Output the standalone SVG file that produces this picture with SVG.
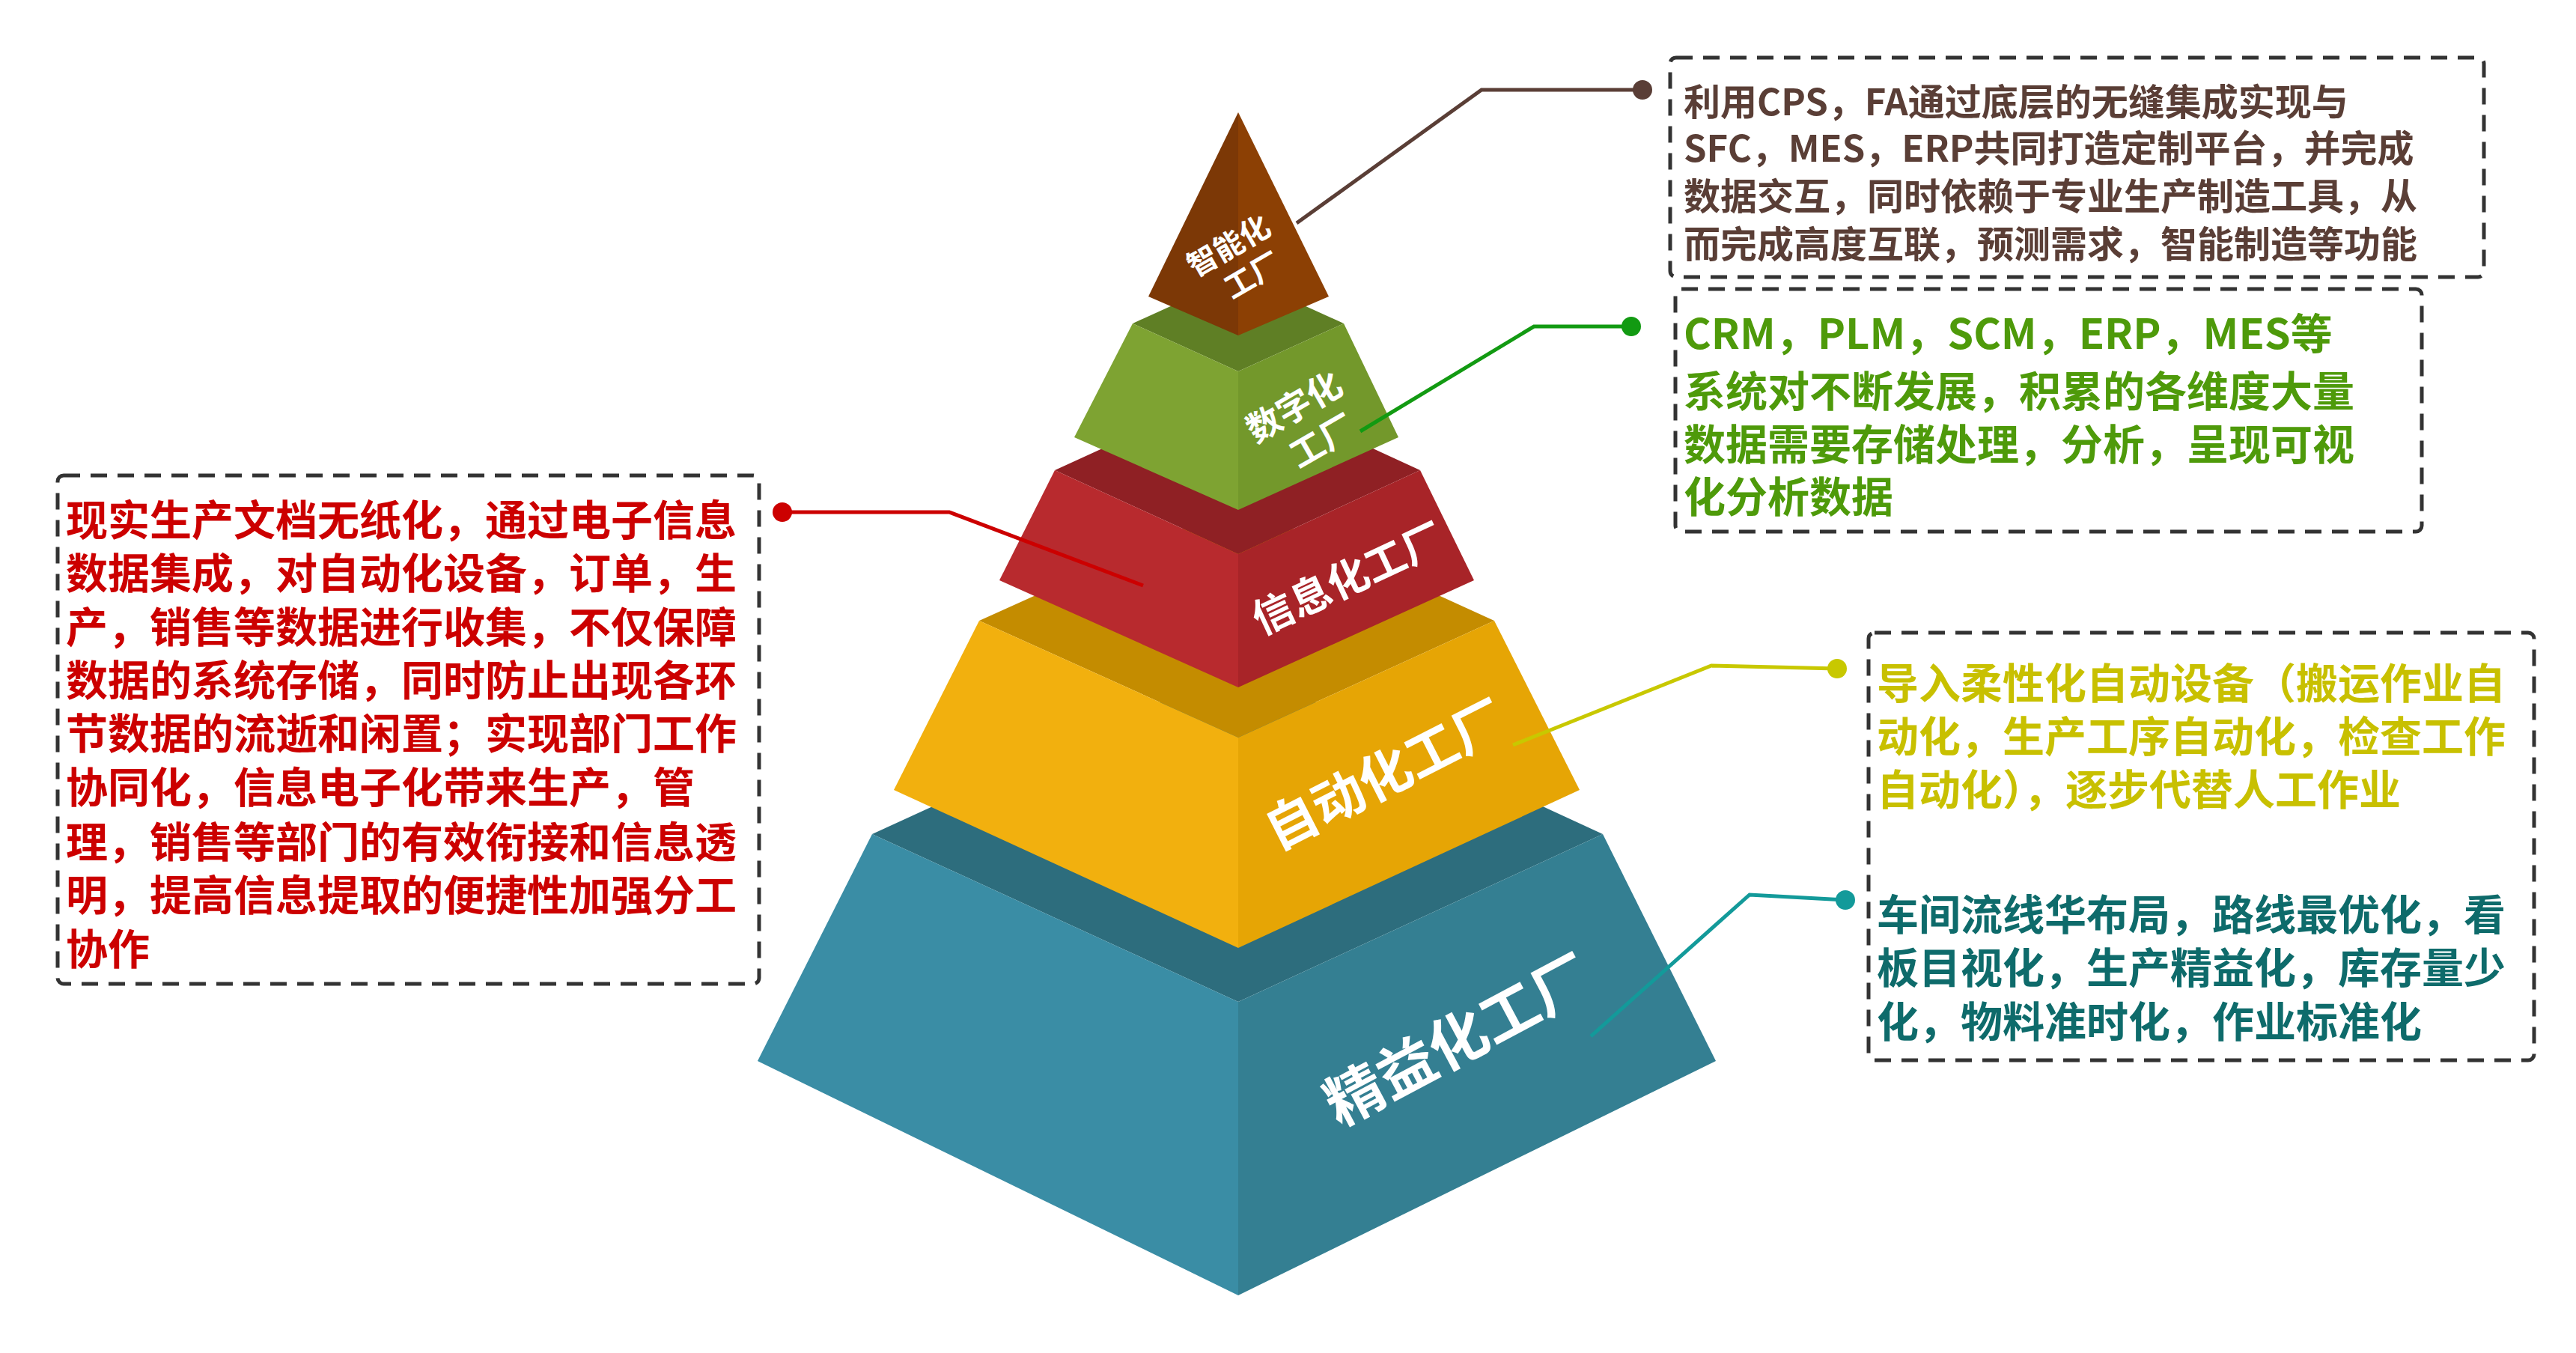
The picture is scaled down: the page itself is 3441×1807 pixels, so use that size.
<svg xmlns="http://www.w3.org/2000/svg" width="3441" height="1807" viewBox="0 0 3441 1807">
<style>
.t{font-family:"Noto Sans CJK SC","Noto Sans",sans-serif;font-weight:bold;dominant-baseline:central}
.lbl{font-family:"Noto Sans CJK SC","Noto Sans",sans-serif;font-weight:bold;fill:#fff;text-anchor:middle;dominant-baseline:central}
.box{fill:none;stroke:#333;stroke-width:5;stroke-dasharray:22 14}
.ln{fill:none;stroke-width:5}
</style>
<rect width="3441" height="1807" fill="#fff"/>
<g id="lean">
<polygon points="1165,1114 1654,890 2141,1114 1654,1338" fill="#2d6d7d"/>
<polygon points="1165,1114 1654,1338 1654,1730 1012,1417" fill="#3a8da5"/>
<polygon points="1654,1338 2141,1114 2292,1417 1654,1730" fill="#347f92"/>
<text class="lbl" font-size="78" transform="translate(1945,1384) rotate(-28)">精益化工厂</text>
</g>
<g id="auto">
<polygon points="1308,829 1654,673 1996,829 1654,985" fill="#c48c00"/>
<polygon points="1308,829 1654,985 1654,1266 1194,1055" fill="#f2b00e"/>
<polygon points="1654,985 1996,829 2110,1055 1654,1266" fill="#e6a505"/>
<text class="lbl" font-size="70" transform="translate(1848,1030) rotate(-27)">自动化工厂</text>
</g>
<g id="info">
<polygon points="1409,628 1654,516 1897,628 1654,740" fill="#8f2024"/>
<polygon points="1409,628 1654,740 1654,918 1335,775" fill="#b82a2e"/>
<polygon points="1654,740 1897,628 1969,775 1654,918" fill="#a82428"/>
<text class="lbl" font-size="55" transform="translate(1799,769) rotate(-25)">信息化工厂</text>
</g>
<g id="digital">
<polygon points="1513,432 1654,368 1795,432 1654,496" fill="#5f7f25"/>
<polygon points="1513,432 1654,496 1654,681 1435,584" fill="#7ea332"/>
<polygon points="1654,496 1795,432 1868,584 1654,681" fill="#73982b"/>
<text class="lbl" font-size="46" transform="translate(1741,565) rotate(-30)"><tspan x="0" y="-28">数字化</tspan><tspan x="10" y="30">工厂</tspan></text>
</g>
<g id="smart">
<polygon points="1654,150 1654,448 1534,396" fill="#7c3806"/>
<polygon points="1654,150 1775,396 1654,448" fill="#8c4004"/>
<text class="lbl" font-size="40" transform="translate(1652,347) rotate(-30)"><tspan x="0" y="-24">智能化</tspan><tspan x="8" y="26">工厂</tspan></text>
</g>
<g id="connectors">
<polyline class="ln" stroke="#5a3e36" points="2187,120 1979,120 1732,298"/>
<circle cx="2194" cy="120" r="13" fill="#5a3e36"/>
<polyline class="ln" stroke="#129a12" points="2172,436 2049,436 1817,576"/>
<circle cx="2179" cy="436" r="13" fill="#129a12"/>
<polyline class="ln" stroke="#cc0000" points="1040,684 1268,684 1527,782"/>
<circle cx="1045" cy="684" r="13" fill="#cc0000"/>
<polyline class="ln" stroke="#c8c800" points="2454,893 2286,889 2021,995"/>
<circle cx="2454" cy="893" r="13" fill="#c8c800"/>
<polyline class="ln" stroke="#139a9a" points="2465,1202 2337,1195 2125,1384"/>
<circle cx="2465" cy="1202" r="13" fill="#139a9a"/>
</g>
<g id="box-smart">
<rect class="box" x="2231" y="77" width="1087" height="293" rx="8"/>
<g class="t" font-size="49" fill="#5a3e36">
<text x="2249" y="132">利用CPS，FA通过底层的无缝集成实现与</text>
<text x="2249" y="194">SFC，MES，ERP共同打造定制平台，并完成</text>
<text x="2249" y="258">数据交互，同时依赖于专业生产制造工具，从</text>
<text x="2249" y="322">而完成高度互联，预测需求，智能制造等功能</text>
</g>
</g>
<g id="box-digital">
<rect class="box" x="2238" y="386" width="997" height="324" rx="8"/>
<g class="t" font-size="56" fill="#4e9a0a">
<text x="2249" y="441">CRM，PLM，SCM，ERP，MES等</text>
<text x="2249" y="518">系统对不断发展，积累的各维度大量</text>
<text x="2249" y="589">数据需要存储处理，分析，呈现可视</text>
<text x="2249" y="659">化分析数据</text>
</g>
</g>
<g id="box-info">
<rect class="box" x="77" y="635" width="937" height="679" rx="8"/>
<g class="t" font-size="56" fill="#cc0000">
<text x="88" y="690">现实生产文档无纸化，通过电子信息</text>
<text x="88" y="761">数据集成，对自动化设备，订单，生</text>
<text x="88" y="833">产，销售等数据进行收集，不仅保障</text>
<text x="88" y="904">数据的系统存储，同时防止出现各环</text>
<text x="88" y="975">节数据的流逝和闲置；实现部门工作</text>
<text x="88" y="1047">协同化，信息电子化带来生产，管</text>
<text x="88" y="1120">理，销售等部门的有效衔接和信息透</text>
<text x="88" y="1191">明，提高信息提取的便捷性加强分工</text>
<text x="88" y="1263">协作</text>
</g>
</g>
<g id="box-auto-lean">
<rect class="box" x="2496" y="845" width="889" height="571" rx="8"/>
<g class="t" font-size="56" fill="#c8c000">
<text x="2507" y="908">导入柔性化自动设备（搬运作业自</text>
<text x="2507" y="979">动化，生产工序自动化，检查工作</text>
<text x="2507" y="1050">自动化），逐步代替人工作业</text>
</g>
<g class="t" font-size="56" fill="#0e6b6b">
<text x="2507" y="1217">车间流线华布局，路线最优化，看</text>
<text x="2507" y="1288">板目视化，生产精益化，库存量少</text>
<text x="2507" y="1360">化，物料准时化，作业标准化</text>
</g>
</g>
</svg>
